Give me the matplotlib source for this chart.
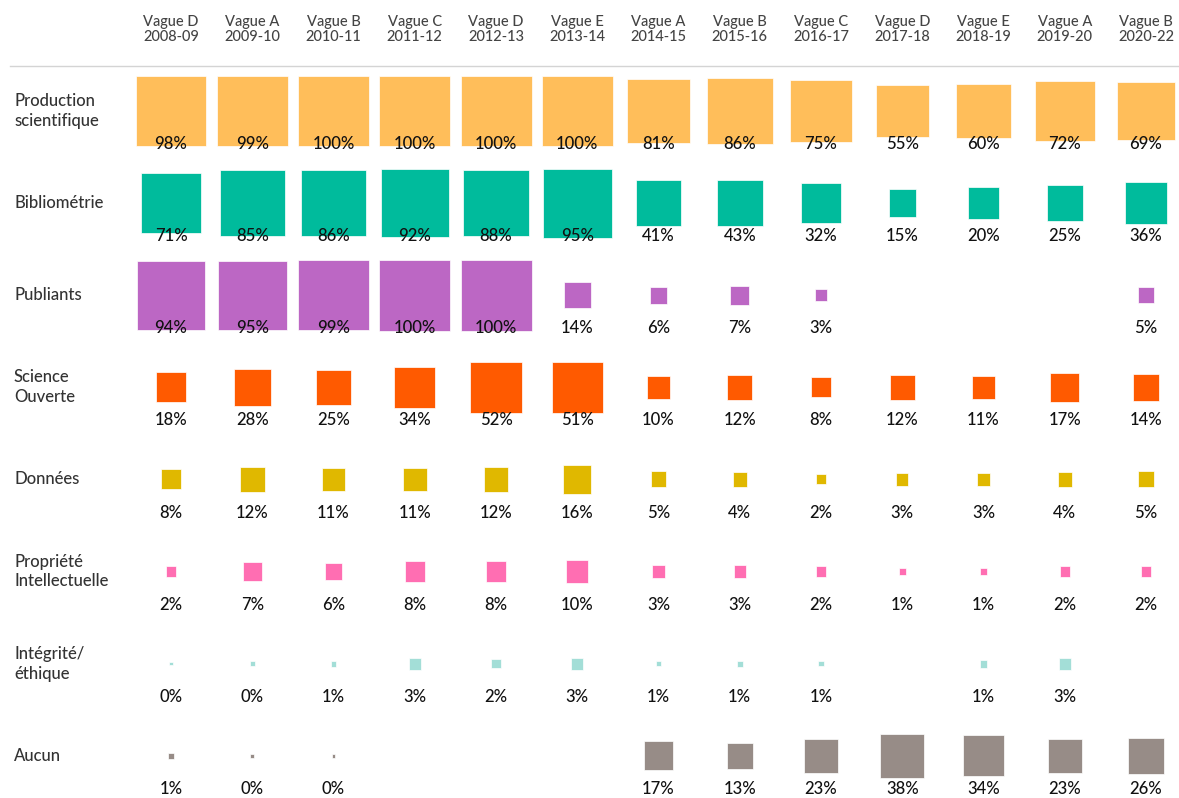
import matplotlib
matplotlib.use('Agg')
matplotlib.rc('font', family=['Lato', 'DejaVu Sans'])
from matplotlib import pyplot as plt
import numpy as np

nan = np.nan

periods = ['Vague D\n2008-09', 'Vague A\n2009-10', 'Vague B\n2010-11', 'Vague C\n2011-12',
           'Vague D\n2012-13', 'Vague E\n2013-14', 'Vague A\n2014-15', 'Vague B\n2015-16',
           'Vague C\n2016-17', 'Vague D\n2017-18', 'Vague E\n2018-19', 'Vague A\n2019-20',
           'Vague B\n2020-22']

categories = ['Production\nscientifique', 'Bibliométrie', 'Publiants', 'Science\nOuverte',
              'Données', 'Propriété\nIntellectuelle', 'Intégrité/\néthique', 'Aucun']

# share of units (%), per period
production = [98, 99, 100, 100, 100, 100, 81, 86, 75, 55, 60, 72, 69]
bibliometrie = [71, 85, 86, 92, 88, 95, 41, 43, 32, 15, 20, 25, 36]
publiants = [94, 95, 99, 100, 100, 14, 6, 7, 3, nan, nan, nan, 5]
science_ouverte = [18, 28, 25, 34, 52, 51, 10, 12, 8, 12, 11, 17, 14]
donnees = [8, 12, 11, 11, 12, 16, 5, 4, 2, 3, 3, 4, 5]
propriete = [2, 7, 6, 8, 8, 10, 3, 3, 2, 1, 1, 2, 2]
integrite = [0.2, 0.4, 0.7, 2.9, 1.7, 2.9, 0.6, 0.7, 0.6, nan, 1.2, 2.9, nan]
aucun = [0.7, 0.35, 0.3, nan, nan, nan, 17, 13, 23, 38, 34, 23, 26]

rows = [production, bibliometrie, publiants, science_ouverte, donnees, propriete, integrite, aucun]
colors = ['#FFBE5A', '#00BB9C', '#BC67C4', '#FF5A00', '#E0B800', '#FF6EB2', '#A3DED7', '#978C87']

fig = plt.figure(figsize=(11.79, 7.98), dpi=100)
ax = fig.add_axes([0, 0, 1, 1])
ax.set_xlim(-2.105, 12.406)
ax.set_ylim(7.459, -1.205)
ax.axis('off')

cols = np.arange(len(periods))
for r, (vals, col) in enumerate(zip(rows, colors)):
    vals = np.array(vals, dtype=float)
    ok = ~np.isnan(vals)
    ax.scatter(cols[ok], np.full(ok.sum(), r), s=26.1 * vals[ok], marker='s',
               color=col, edgecolors='white', linewidths=0.5, zorder=2)
    for c, v in zip(cols[ok], vals[ok]):
        ax.text(c, r + 0.36, f'{v:.0f}%', ha='center', va='center',
                fontsize=12, color='#111111', fontweight='medium', zorder=3)
    ax.text(14 / 1179, r, categories[r], transform=ax.get_yaxis_transform(),
            ha='left', va='center', fontsize=12, color='#333333', fontweight='medium',
            linespacing=1.3)

for c, p in enumerate(periods):
    ax.text(c, -0.88, p, ha='center', va='center', fontsize=10.5, color='#444444',
            fontweight='medium', linespacing=1.1)

ax.axhline(-0.49, xmin=10 / 1179, xmax=1, color='#d4d4d4', linewidth=1)

fig.savefig('out.png', dpi=100)
